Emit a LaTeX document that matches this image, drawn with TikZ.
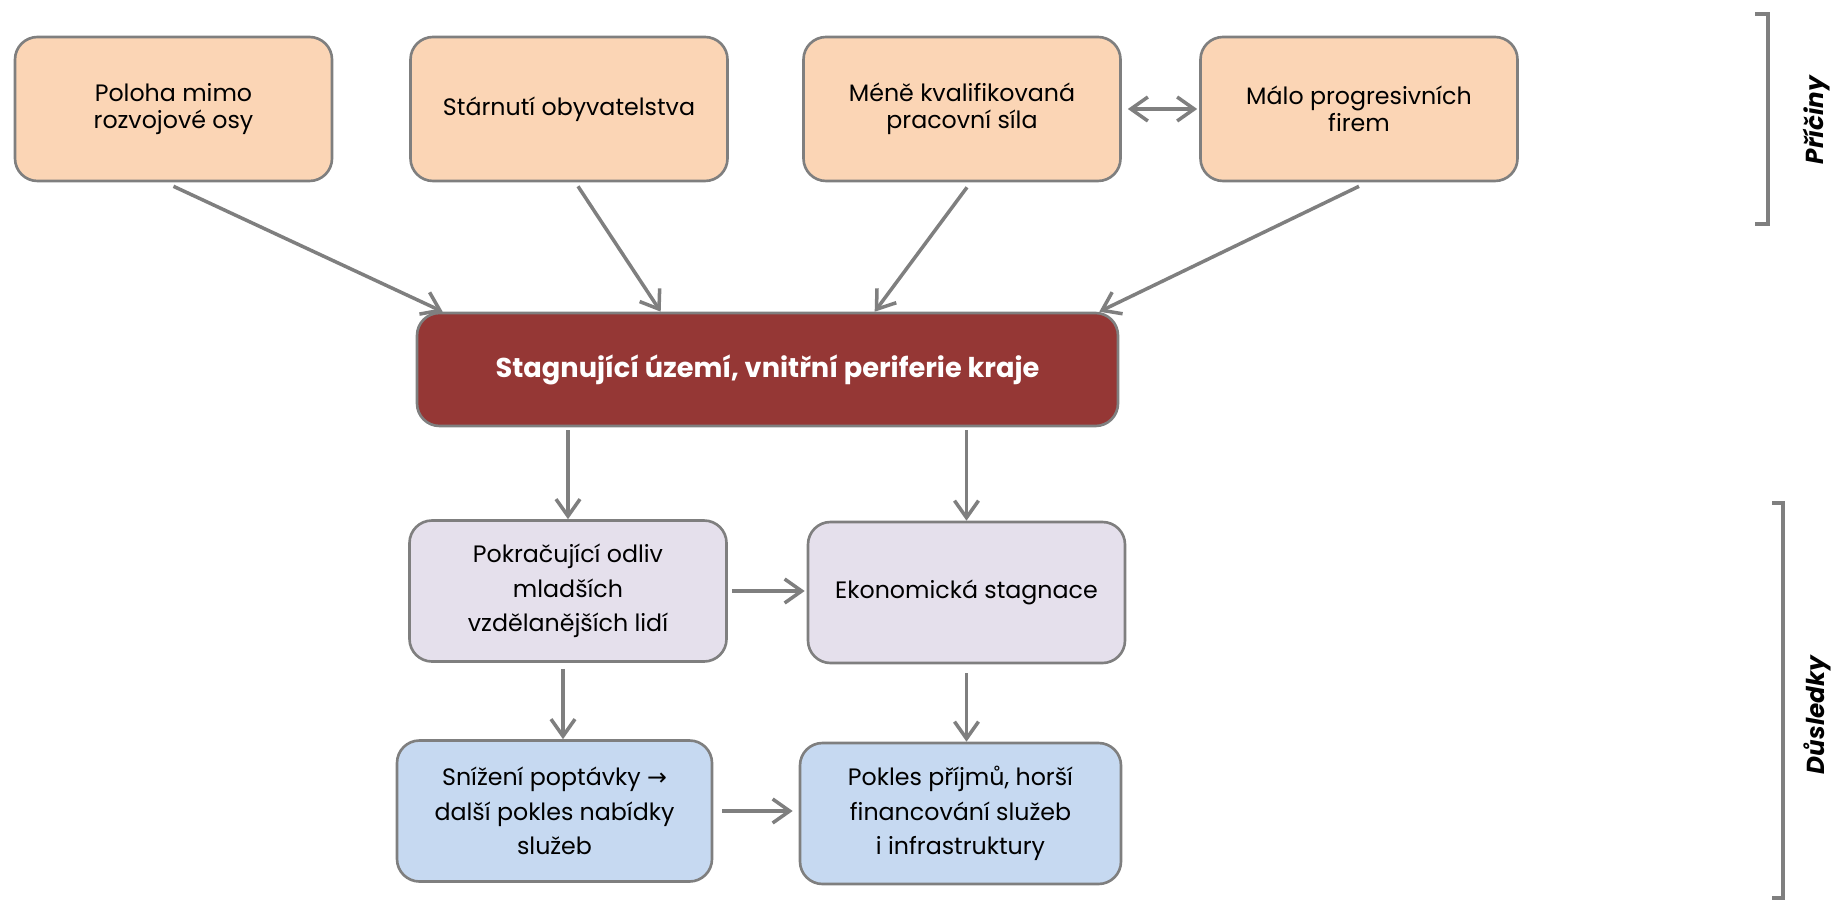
\documentclass[tikz,border=0pt]{standalone}
\usepackage{fontspec}
\setmainfont{Poppins}
\newfontfamily\symfont{DejaVu Sans}
\usepackage{tikz}
\usetikzlibrary{arrows.meta,shapes,positioning}
\definecolor{ppeach}{RGB}{251,213,181}
\definecolor{pred}{RGB}{149,55,53}
\definecolor{plilac}{RGB}{229,224,236}
\definecolor{pblue}{RGB}{198,217,241}
\definecolor{pgray}{RGB}{127,127,127}
\tikzstyle{cause} = [rectangle, rounded corners=0.45cm, minimum width=6.34cm, minimum height=2.88cm, text centered, align=center, draw=pgray, fill=ppeach, line width=1.5pt, font=\fontsize{13.5}{15.5}\selectfont]
\tikzstyle{core} = [rectangle, rounded corners=0.45cm, minimum width=14.02cm, minimum height=2.26cm, text centered, draw=pgray, fill=pred, line width=1.5pt, text=white, font=\fontsize{15.5}{18}\selectfont\bfseries]
\tikzstyle{effect} = [rectangle, rounded corners=0.45cm, minimum width=6.34cm, minimum height=2.82cm, text centered, align=center, draw=pgray, fill=plilac, line width=1.5pt, font=\fontsize{13.5}{19.6}\selectfont]
\tikzstyle{arrow} = [line width=2pt,->,>={Straight Barb[length=3.4mm,width=4.8mm]},color=pgray]
\tikzstyle{brace} = [line width=1.9pt,color=pgray]

\begin{document}
\begin{tikzpicture}
\useasboundingbox (0,0) rectangle (36.68,-18.22);
% Causes
\node[cause] (poloha) at (3.47,-2.18) {Poloha mimo\\rozvojové osy};
\node[cause] (starnuti) at (11.38,-2.18) {Stárnutí obyvatelstva};
\node[cause] (prace) at (19.24,-2.18) {Méně kvalifikovaná\\pracovní síla};
\node[cause] (firmy) at (27.18,-2.18) {Málo progresivních\\firem};
\draw[arrow, <->] ([xshift=0.12cm]prace.east) -- ([xshift=-0.04cm]firmy.west);

% Core problem
\node[core] (stag) at (15.35,-7.39) {Stagnující území, vnitřní periferie kraje};
\draw[arrow] ([yshift=-0.08cm]poloha.south) -- ([xshift=0.54cm]stag.north west);
\draw[arrow] ([xshift=0.18cm,yshift=-0.08cm]starnuti.south) -- ([xshift=4.9cm]stag.north west);
\draw[arrow] ([xshift=0.1cm,yshift=-0.1cm]prace.south) -- ([xshift=9.18cm]stag.north west);
\draw[arrow] ([yshift=-0.08cm]firmy.south) -- ([xshift=-0.4cm]stag.north east);

% Consequences
\node[effect] (odliv) at (11.36,-11.82) {Pokračující odliv\\mladších\\vzdělanějších lidí};
\node[effect] (ekon) at (19.33,-11.85) {Ekonomická stagnace};
\node[effect, fill=pblue, minimum width=6.3cm] (poptavka) at (11.09,-16.22) {Snížení poptávky {\symfont→}\\další pokles nabídky\\služeb};
\node[effect, fill=pblue, minimum width=6.42cm] (prijmy) at (19.21,-16.27) {Pokles příjmů, horší\\financování služeb\\i infrastruktury};

\draw[arrow] ([yshift=-0.06cm]stag.south -| odliv.north) -- (odliv.north);
\draw[arrow] ([yshift=-0.06cm]stag.south -| ekon.north) -- (ekon.north);
\draw[arrow, shorten <=0.08cm, shorten >=0.04cm] (odliv.east) -- (ekon.west |- odliv.east);
\draw[arrow] ([xshift=-0.1cm,yshift=-0.12cm]odliv.south) -- ([xshift=-0.1cm]odliv.south |- poptavka.north);
\draw[arrow] ([yshift=-0.18cm]ekon.south) -- (ekon.south |- prijmy.north);
\draw[arrow, shorten <=0.18cm, shorten >=0.12cm] (poptavka.east) -- (prijmy.west |- poptavka.east);

% Brackets
\draw[brace] (35.1,-0.28) -- (35.36,-0.28) -- (35.36,-4.48) -- (35.1,-4.48);
\node[rotate=90, font=\fontsize{14}{16}\selectfont\bfseries\itshape] (pricina) at (36.34,-2.4) {Příčiny};
\draw[brace] (35.44,-10.06) -- (35.66,-10.06) -- (35.66,-17.96) -- (35.44,-17.96);
\node[rotate=90, font=\fontsize{14}{16}\selectfont\bfseries\itshape] (dusledek) at (36.34,-14.3) {Důsledky};
\end{tikzpicture}
\end{document}
